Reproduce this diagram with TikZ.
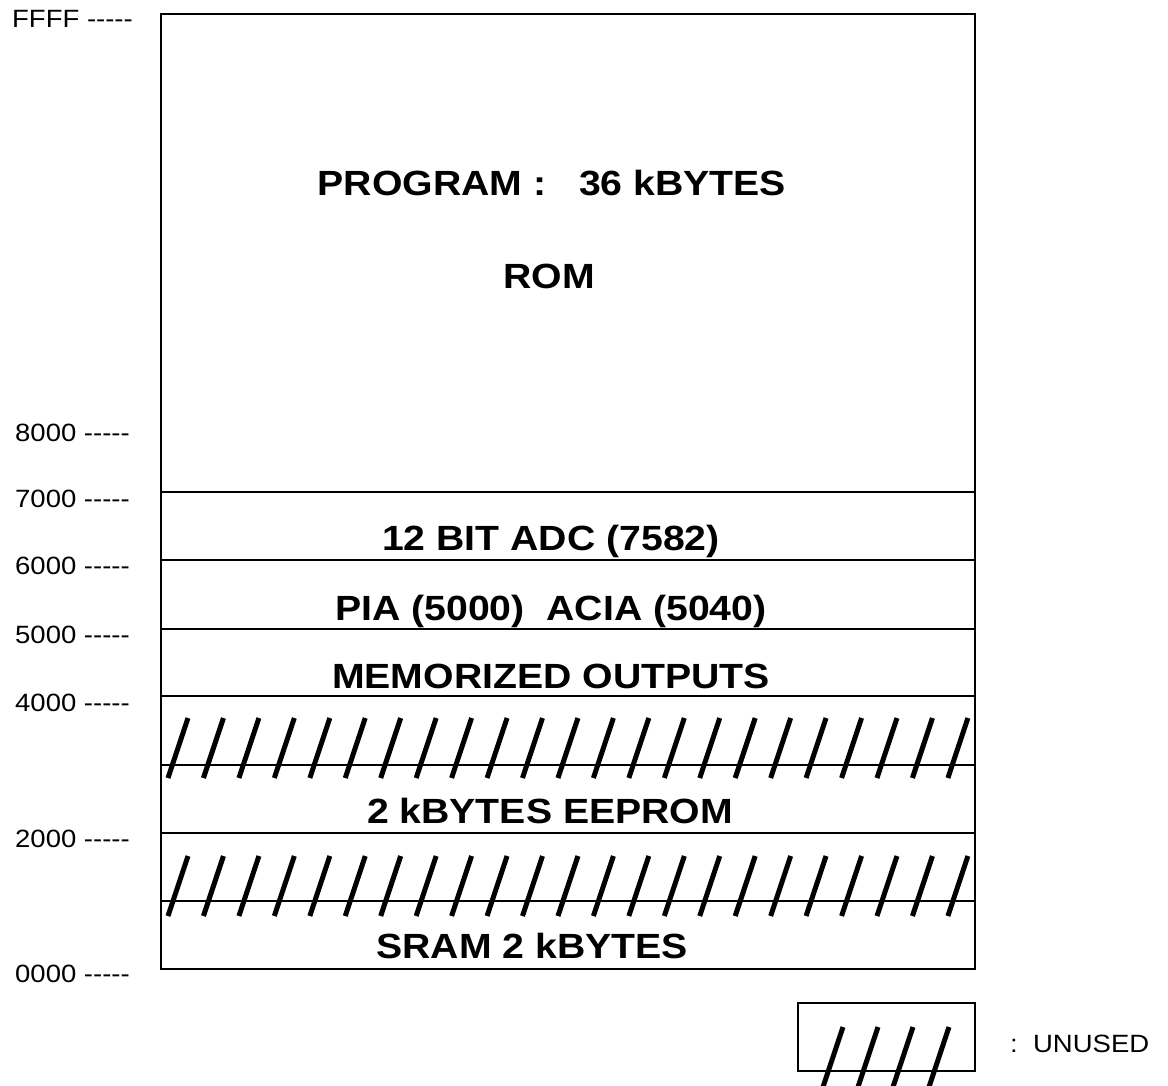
\documentclass[tikz,border=0pt]{standalone}
\usepackage{fontspec}
\setmainfont{Liberation Sans}[FakeStretch=1.1,Ligatures=ResetAll]
\newfontfamily\boldf{Liberation Sans}[FakeStretch=1.12,Ligatures=ResetAll]
\newcommand{\dsh}{-{}-{}-{}-{}-}
\begin{document}
\begin{tikzpicture}[x=1pt,y=-1pt,
  boxline/.style={line width=2pt,black},
  rowline/.style={line width=1.8pt,black},
  hatch/.style={line width=5pt,black},
  addr/.style={anchor=base east,inner sep=0pt,font=\fontsize{25}{28}\selectfont},
  region/.style={anchor=base,inner sep=0pt,font=\boldf\bfseries\fontsize{35}{40}\selectfont},
  legtext/.style={anchor=base west,inner sep=0pt,font=\fontsize{25}{28}\selectfont}]
\useasboundingbox (0,0) rectangle (1168,1086);
\fill[white] (0,0) rectangle (1168,1086);
% main box
\draw[boxline] (161,14) rectangle (975,969);
\foreach \yy in {492,560,629,696,765,833,901}
  \draw[rowline] (161,\yy) -- (975,\yy);
% hatching
\foreach \i in {0,...,22} {
  \draw[hatch] ({188+\i*35.45},718) -- ++(-20,60);
  \draw[hatch] ({188+\i*35.45},856) -- ++(-20,60);
}
% address labels
\node[addr] (aFFFF) at (133,28) {FFFF \dsh};
\node[addr] (a8000) at (130,441) {8000 \dsh};
\node[addr] (a7000) at (130,507) {7000 \dsh};
\node[addr] (a6000) at (130,574) {6000 \dsh};
\node[addr] (a5000) at (130,643) {5000 \dsh};
\node[addr] (a4000) at (130,711) {4000 \dsh};
\node[addr] (a2000) at (130,847) {2000 \dsh};
\node[addr] (a0000) at (130,982) {0000 \dsh};
% region texts
\node[region] (prog) at (552,196) {PROGRAM :\ \ \ 36 kBYTES};
\node[region] (rom) at (549,288) {ROM};
\node[region] (adc) at (551,550) {12 BIT ADC (7582)};
\node[region] (pia) at (551,620) {PIA (5000)\ \ ACIA (5040)};
\node[region] (mem) at (551,688) {MEMORIZED OUTPUTS};
\node[region] (eep) at (550,823) {2 kBYTES EEPROM};
\node[region] (sram) at (532,958) {SRAM 2 kBYTES};
% legend
\draw[line width=1.5pt] (798,1003) rectangle (975,1071);
\foreach \xx in {843,878,913,949}
  \draw[hatch] (\xx,1027) -- ++(-20,60);
\node[legtext] (leg) at (1010,1052) {:\ \ UNUSED};
\end{tikzpicture}
\end{document}
